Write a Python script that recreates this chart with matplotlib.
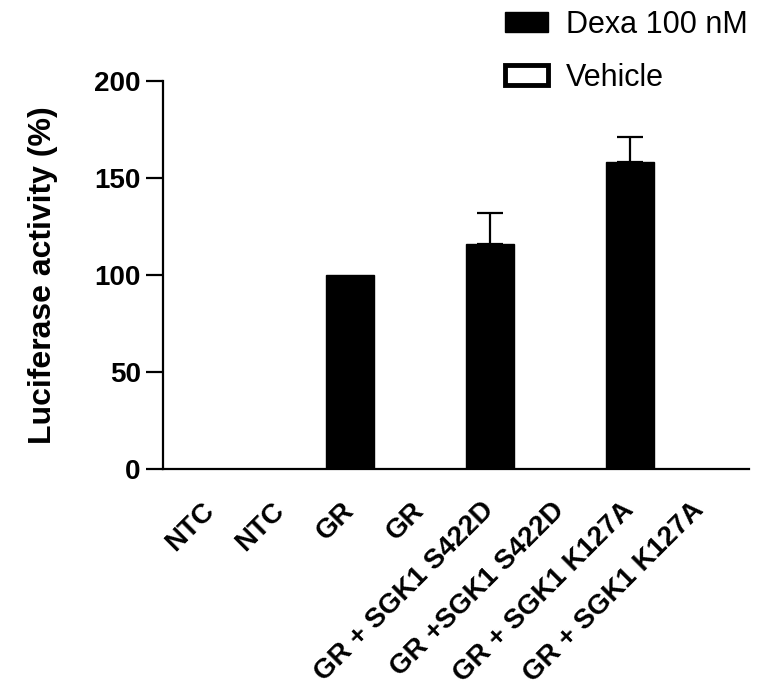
import numpy as np
import matplotlib
matplotlib.use("Agg")
import matplotlib.pyplot as plt
from matplotlib.patches import Patch

# ---------------------------------------------------------
# Data
# ---------------------------------------------------------
categories = ["NTC", "NTC", "GR", "GR",
              "GR + SGK1 S422D", "GR +SGK1 S422D",
              "GR + SGK1 K127A", "GR + SGK1 K127A"]
treatment = ["Dexa", "Vehicle", "Dexa", "Vehicle",
             "Dexa", "Vehicle", "Dexa", "Vehicle"]
activity = [0, 0, 100, 0, 116, 0, 158, 0]
sem = [0, 0, 0, 0, 16, 0, 13, 0]

yticks = [0, 50, 100, 150, 200]

plt.rcParams["font.family"] = ["Liberation Sans", "DejaVu Sans"]

# ---------------------------------------------------------
# Plot
# ---------------------------------------------------------
fig = plt.figure(figsize=(7.61, 6.98), dpi=100)
ax = fig.add_axes([0.2142, 0.3281, 0.770, 0.5563])

x = np.arange(len(categories))
for i in range(len(categories)):
    if treatment[i] == "Dexa":
        ax.bar(x[i], activity[i], width=0.686, color="black",
               edgecolor="black", linewidth=1)
        if sem[i] > 0:
            ax.errorbar(x[i], activity[i], yerr=[[0], [sem[i]]], fmt="none",
                        ecolor="black", elinewidth=1.6, capsize=9.5,
                        capthick=1.6)
    else:
        ax.bar(x[i], activity[i], width=0.686, color="white",
               edgecolor="black", linewidth=1)

ax.set_xlim(-0.671, 7.7)
ax.set_ylim(0, 200)
ax.set_yticks(yticks)
ax.set_yticklabels([str(t) for t in yticks], fontsize=20, fontweight="heavy")
ax.set_xticks(x)
ax.set_xticklabels(categories, rotation=45, ha="right", va="center",
                   rotation_mode="anchor", fontsize=20, fontweight="heavy")
ax.tick_params(axis="x", length=0, pad=27)
ax.tick_params(axis="y", length=12, width=1.6, pad=4)

ax.spines["top"].set_visible(False)
ax.spines["right"].set_visible(False)
ax.spines["left"].set_linewidth(1.6)
ax.spines["bottom"].set_linewidth(1.6)

ax.set_ylabel("Luciferase activity (%)", fontsize=23, fontweight="heavy",
              labelpad=26)

handles = [Patch(facecolor="black", edgecolor="black", label="Dexa 100 nM"),
           Patch(facecolor="white", edgecolor="black", linewidth=3.5,
                 label="Vehicle")]
fig.legend(handles=handles, loc="upper left",
           bbox_to_anchor=(505 / 761, 1 - 10 / 698), frameon=False,
           fontsize=22, handlelength=1.4, handleheight=0.65,
           handletextpad=0.6, labelspacing=0.75, borderpad=0,
           borderaxespad=0)

fig.savefig("out.png", dpi=100)
